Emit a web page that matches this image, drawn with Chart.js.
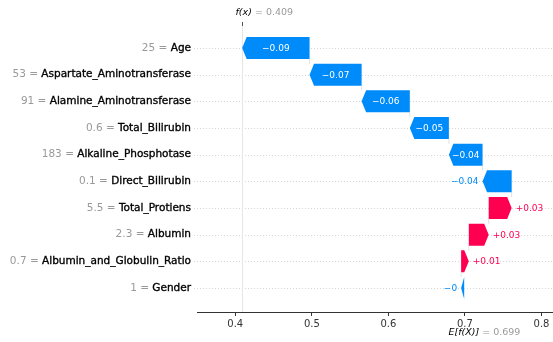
<!DOCTYPE html>
<html>
<head>
<meta charset="utf-8">
<script src="https://cdn.jsdelivr.net/npm/chart.js@4"></script>
<style>
  html, body { margin: 0; padding: 0; background: #ffffff; }
  #c { display: block; }
</style>
</head>
<body>
<canvas id="c" width="553" height="342"></canvas>
<script>
// Feature contributions for one prediction, listed top to bottom
const features = ['Age', 'Aspartate_Aminotransferase', 'Alamine_Aminotransferase', 'Total_Bilirubin',
  'Alkaline_Phosphotase', 'Direct_Bilirubin', 'Total_Protiens', 'Albumin', 'Albumin_and_Globulin_Ratio', 'Gender'];
const featureValues = ['25', '53', '91', '0.6', '183', '0.1', '5.5', '2.3', '0.7', '1'];
const shapValues = [-0.088, -0.068, -0.063, -0.051, -0.044, -0.038, 0.030, 0.026, 0.010, -0.004];
const baseValue = 0.699;
const xTicks = [0.4, 0.5, 0.6, 0.7, 0.8];

const BLUE = '#008bfb';
const PINK = '#ff0051';
const FONT = 'DejaVu Sans, sans-serif';

// Waterfall: accumulate from the base value, starting at the bottom row
const starts = new Array(features.length);
const ends = new Array(features.length);
let running = baseValue;
for (let i = features.length - 1; i >= 0; i--) {
  starts[i] = running;
  ends[i] = running + shapValues[i];
  running = ends[i];
}
const fx = running;

function fmt(v) {
  let s = Math.abs(v).toFixed(2).replace(/0+$/, '').replace(/\.$/, '');
  return (v < 0 ? '\u2212' : '+') + s;
}

const barData = features.map((f, i) => ({ x: [starts[i], ends[i]], y: i }));

const waterfallPlugin = {
  id: 'waterfall',
  beforeDatasetsDraw(chart) {
    const { ctx, chartArea: ca, scales: { x, y } } = chart;
    ctx.save();
    // dotted row guides
    ctx.strokeStyle = '#cccccc';
    ctx.lineWidth = 0.8;
    ctx.setLineDash([1, 2]);
    features.forEach((f, i) => {
      const py = Math.round(y.getPixelForValue(i)) + 0.5;
      ctx.beginPath();
      ctx.moveTo(ca.left - 3, py);
      ctx.lineTo(ca.right, py);
      ctx.stroke();
    });
    ctx.setLineDash([]);
    // f(x) reference line
    const fxPx = Math.round(x.getPixelForValue(fx)) + 0.5;
    ctx.strokeStyle = '#e6e6e6';
    ctx.lineWidth = 1;
    ctx.beginPath();
    ctx.moveTo(fxPx, ca.top);
    ctx.lineTo(fxPx, ca.bottom);
    ctx.stroke();
    // connectors between consecutive bars
    ctx.strokeStyle = '#cfcfcf';
    ctx.lineWidth = 0.6;
    const half = 11;
    for (let i = 0; i < features.length - 1; i++) {
      const px = x.getPixelForValue(starts[i]);
      ctx.beginPath();
      ctx.moveTo(px, y.getPixelForValue(i) + half);
      ctx.lineTo(px, y.getPixelForValue(i + 1) - half);
      ctx.stroke();
    }
    ctx.restore();
  },
  afterDatasetsDraw(chart) {
    const { ctx, scales: { x } } = chart;
    const meta = chart.getDatasetMeta(0);
    ctx.save();
    ctx.font = '9px ' + FONT;
    ctx.textBaseline = 'middle';
    meta.data.forEach((el, i) => {
      const p = el.getProps(['y', 'height'], true);
      const xs = x.getPixelForValue(starts[i]);
      const xe = x.getPixelForValue(ends[i]);
      const top = p.y - p.height / 2, bot = p.y + p.height / 2;
      const neg = shapValues[i] < 0;
      const w = Math.abs(xe - xs);
      const hl = Math.min(4.5, w);
      const dir = neg ? 1 : -1;
      ctx.fillStyle = neg ? BLUE : PINK;
      ctx.beginPath();
      ctx.moveTo(xs, top);
      ctx.lineTo(xe + dir * hl, top);
      ctx.lineTo(xe, p.y);
      ctx.lineTo(xe + dir * hl, bot);
      ctx.lineTo(xs, bot);
      ctx.closePath();
      ctx.fill();

      // value label: inside the arrow when it fits, otherwise beside its tip
      const label = fmt(shapValues[i]);
      const tw = ctx.measureText(label).width;
      if (tw + 4 < w) {
        ctx.fillStyle = '#ffffff';
        ctx.textAlign = 'center';
        ctx.fillText(label, (xs + xe) / 2, p.y + 0.5);
      } else if (neg) {
        ctx.fillStyle = BLUE;
        ctx.textAlign = 'right';
        ctx.fillText(label, Math.min(xs, xe) - 4, p.y + 0.5);
      } else {
        ctx.fillStyle = PINK;
        ctx.textAlign = 'left';
        ctx.fillText(label, Math.max(xs, xe) + 4, p.y + 0.5);
      }
    });
    ctx.restore();
  },
  afterDraw(chart) {
    const { ctx, chartArea: ca, scales: { x, y } } = chart;
    ctx.save();
    ctx.textBaseline = 'middle';
    // feature labels: "value = name"
    const nameFont = '10.5px ' + FONT;
    features.forEach((f, i) => {
      const py = y.getPixelForValue(i);
      const right = ca.left - 6;
      ctx.font = nameFont;
      ctx.textAlign = 'right';
      ctx.fillStyle = '#000000';
      ctx.strokeStyle = '#000000';
      ctx.lineWidth = 0.35;
      ctx.fillText(f, right, py);
      ctx.strokeText(f, right, py);
      const nw = ctx.measureText(f).width;
      ctx.fillStyle = '#999999';
      ctx.fillText(featureValues[i] + ' = ', right - nw, py);
    });
    // f(x) marker at the top
    const fxPx = Math.round(x.getPixelForValue(fx)) + 0.5;
    ctx.strokeStyle = '#555555';
    ctx.lineWidth = 1;
    ctx.beginPath();
    ctx.moveTo(fxPx, ca.top - 4);
    ctx.lineTo(fxPx, ca.top);
    ctx.stroke();
    ctx.textAlign = 'left';
    ctx.font = 'italic 9.5px ' + FONT;
    ctx.fillStyle = '#000000';
    const fxLab = 'f(x)';
    ctx.fillText(fxLab, fxPx - 7, 13);
    const fw = ctx.measureText(fxLab).width;
    ctx.font = '9.5px ' + FONT;
    ctx.fillStyle = '#999999';
    ctx.fillText(' = ' + fx.toFixed(3), fxPx - 7 + fw, 13);
    // E[f(X)] marker at the bottom
    const bPx = Math.round(x.getPixelForValue(baseValue)) + 0.5;
    ctx.strokeStyle = '#333333';
    ctx.beginPath();
    ctx.moveTo(bPx, ca.bottom);
    ctx.lineTo(bPx, ca.bottom + 4);
    ctx.stroke();
    ctx.font = 'italic 9.5px ' + FONT;
    ctx.fillStyle = '#000000';
    const eLab = 'E[f(X)]';
    ctx.fillText(eLab, bPx - 16, 333);
    const ew = ctx.measureText(eLab).width;
    ctx.font = '9.5px ' + FONT;
    ctx.fillStyle = '#999999';
    ctx.fillText(' = ' + baseValue.toFixed(3), bPx - 16 + ew, 333);
    ctx.restore();
  }
};

new Chart(document.getElementById('c'), {
  type: 'bar',
  data: {
    datasets: [{
      data: barData,
      backgroundColor: 'rgba(0,0,0,0)',
      borderWidth: 0,
      barThickness: 22
    }]
  },
  options: {
    indexAxis: 'y',
    responsive: false,
    animation: false,
    devicePixelRatio: 1,
    layout: { padding: { left: 197, top: 26, right: 0, bottom: 0 } },
    plugins: { legend: { display: false }, tooltip: { enabled: false } },
    scales: {
      y: {
        type: 'linear',
        reverse: true,
        offset: false,
        grace: 0,
        min: -0.825,
        max: 9.9,
        display: false
      },
      x: {
        type: 'linear',
        position: 'bottom',
        min: 0.35,
        max: 0.815,
        afterBuildTicks: s => { s.ticks = xTicks.map(v => ({ value: v })); },
        afterFit: s => { s.height = 30; },
        ticks: {
          font: { family: FONT, size: 10 },
          color: '#333333',
          padding: 2,
          maxRotation: 0,
          autoSkip: false,
          callback: v => String(v)
        },
        grid: { drawOnChartArea: false, drawTicks: true, tickLength: 4, color: '#333333' },
        border: { display: true, color: '#333333', width: 1 }
      }
    }
  },
  plugins: [waterfallPlugin]
});
</script>
</body>
</html>
